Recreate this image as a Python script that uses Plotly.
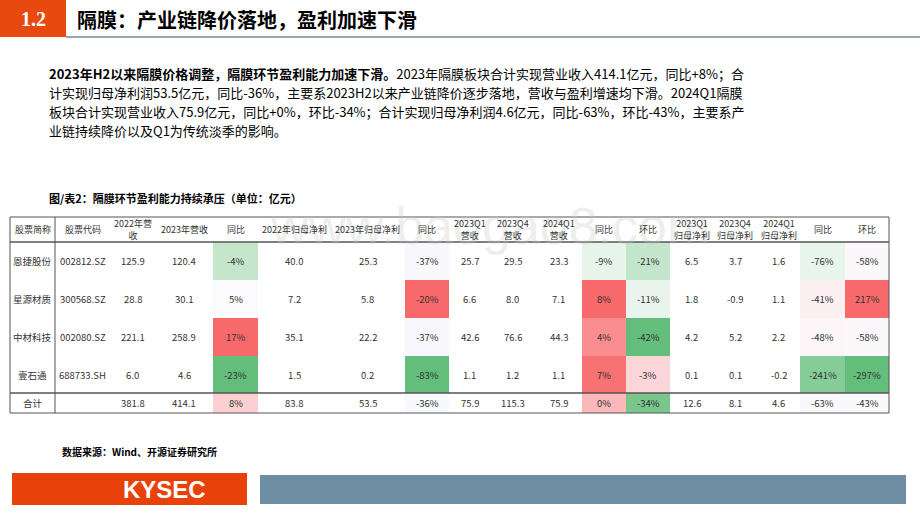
import plotly.graph_objects as go

headers = ["股票简称","股票代码","2022年营<br>收","2023年营收","同比","2022年归母净利","2023年归母净利","同比",
           "2023Q1<br>营收","2023Q4<br>营收","2024Q1<br>营收","同比","环比",
           "2023Q1<br>归母净利","2023Q4<br>归母净利","2024Q1<br>归母净利","同比","环比"]
names = ["恩捷股份","星源材质","中材科技","壹石通","合计"]
codes = ["002812.SZ","300568.SZ","002080.SZ","688733.SH",""]
rev22 = [125.9,28.8,221.1,6.0,381.8]
rev23 = [120.4,30.1,258.9,4.6,414.1]
rev_yoy = [-4,5,17,-23,8]
np22 = [40.0,7.2,35.1,1.5,83.8]
np23 = [25.3,5.8,22.2,0.2,53.5]
np_yoy = [-37,-20,-37,-83,-36]
q1_23 = [25.7,6.6,42.6,1.1,75.9]
q4_23 = [29.5,8.0,76.6,1.2,115.3]
q1_24 = [23.3,7.1,44.3,1.1,75.9]
q_yoy = [-9,8,4,7,0]
q_qoq = [-21,-11,-42,-3,-34]
nq1_23 = [6.5,1.8,4.2,0.1,12.6]
nq4_23 = [3.7,-0.9,5.2,0.1,8.1]
nq1_24 = [1.6,1.1,2.2,-0.2,4.6]
nq_yoy = [-76,-41,-48,-241,-63]
nq_qoq = [-58,217,-58,-297,-43]

# cell fills for the percentage columns (conditional formatting colours)
fills = {
    4: ["#c6e6cc","#fbfafd","#f8696b","#63be7b","#fcd0d3"],
    7: ["#f8f8fc","#f8696b","#f8f8fc","#63be7b","#f8f9fc"],
    11: ["#e6f4ea","#f8696b","#f98d8f","#f87173","#fbb8bb"],
    12: ["#c3e5cb","#e9f5ec","#63be7b","#fcd5d8","#78c68c"],
    16: ["#e8f5ec","#fcf0f2","#fcf6f9","#86cc98","#f9f9fc"],
    17: ["#fbf8fb","#f8696b","#fbf8fb","#63be7b","#f9f9fc"],
}

def f1(v): return f"{v:.1f}"
def pc(v): return f"{v}%"
cols = [names, codes, [f1(v) for v in rev22],[f1(v) for v in rev23],[pc(v) for v in rev_yoy],
        [f1(v) for v in np22],[f1(v) for v in np23],[pc(v) for v in np_yoy],
        [f1(v) for v in q1_23],[f1(v) for v in q4_23],[f1(v) for v in q1_24],[pc(v) for v in q_yoy],[pc(v) for v in q_qoq],
        [f1(v) for v in nq1_23],[f1(v) for v in nq4_23],[f1(v) for v in nq1_24],[pc(v) for v in nq_yoy],[pc(v) for v in nq_qoq]]

xb = [10,55,110,155,213,258,330,405,449,490,535,582,626,670,713,757,800,845,889]
yb = [217,242,280,318,356,393,413]

fig = go.Figure()
shapes, ann = [], []
FONT = "Noto Sans CJK SC"

shapes.append(dict(type="rect", x0=0, x1=66, y0=0, y1=37, fillcolor="#e8490f", line_width=0))
shapes.append(dict(type="line", x0=66, x1=920, y0=37, y1=37, line=dict(color="#9aa4ad", width=2)))
ann.append(dict(x=33, y=19, text="<b>1.2</b>", font=dict(size=20, color="white", family="Liberation Serif"), showarrow=False))
ann.append(dict(x=75, y=19, xanchor="left", text="<b>隔膜：产业链降价落地，盈利加速下滑</b>",
                font=dict(size=20, color="black", family=FONT), showarrow=False))

lines = ["<b>2023年H2以来隔膜价格调整，隔膜环节盈利能力加速下滑。</b>2023年隔膜板块合计实现营业收入414.1亿元，同比+8%；合",
         "计实现归母净利润53.5亿元，同比-36%，主要系2023H2以来产业链降价逐步落地，营收与盈利增速均下滑。2024Q1隔膜",
         "板块合计实现营业收入75.9亿元，同比+0%，环比-34%；合计实现归母净利润4.6亿元，同比-63%，环比-43%，主要系产",
         "业链持续降价以及Q1为传统淡季的影响。"]
for i, t in enumerate(lines):
    ann.append(dict(x=47, y=73+i*19, xanchor="left", text=t, font=dict(size=13, color="black", family=FONT), showarrow=False))

ann.append(dict(x=47, y=198, xanchor="left", text="<b>图/表2：隔膜环节盈利能力持续承压（单位：亿元）</b>",
                font=dict(size=11, color="black", family=FONT), showarrow=False))
ann.append(dict(x=490, y=226, text="www.baogao8.com", font=dict(size=52, color="rgba(200,200,200,0.3)", family="Liberation Sans"), showarrow=False))

for c, f in fills.items():
    for r, col in enumerate(f):
        shapes.append(dict(type="rect", x0=xb[c], x1=xb[c+1], y0=yb[r+1], y1=yb[r+2], fillcolor=col, line_width=0, layer="below"))
for c, h in enumerate(headers):
    ann.append(dict(x=(xb[c]+xb[c+1])/2, y=(yb[0]+yb[1])/2, text=h, font=dict(size=9, color="#333", family=FONT),
                    showarrow=False))
    for r in range(5):
        ann.append(dict(x=(xb[c]+xb[c+1])/2, y=(yb[r+1]+yb[r+2])/2, text=cols[c][r],
                        font=dict(size=9.5, color="#333", family=FONT), showarrow=False))
shapes.append(dict(type="rect", x0=xb[0], x1=xb[-1], y0=yb[0], y1=yb[-1], line=dict(color="#555", width=1)))
shapes.append(dict(type="line", x0=xb[0], x1=xb[-1], y0=yb[1], y1=yb[1], line=dict(color="#555", width=1.5)))
shapes.append(dict(type="line", x0=xb[0], x1=xb[-1], y0=yb[5], y1=yb[5], line=dict(color="#555", width=1.5)))
shapes.append(dict(type="line", x0=xb[1], x1=xb[1], y0=yb[0], y1=yb[-1], line=dict(color="#555", width=1)))

ann.append(dict(x=60, y=451, xanchor="left", text="<b>数据来源：Wind、开源证券研究所</b>",
                font=dict(size=10, color="black", family=FONT), showarrow=False))
shapes.append(dict(type="rect", x0=12, x1=247, y0=473, y1=505, fillcolor="#e8410a", line_width=0))
shapes.append(dict(type="rect", x0=260, x1=906, y0=475, y1=504, fillcolor="#6e8fa3", line_width=0))
ann.append(dict(x=164, y=489, text="<b>KYSEC</b>", font=dict(size=24, color="white", family="Liberation Sans"), showarrow=False))

fig.update_layout(width=920, height=518, margin=dict(l=0, r=0, t=0, b=0), plot_bgcolor="white", paper_bgcolor="white",
                  shapes=shapes, annotations=ann, showlegend=False,
                  xaxis=dict(range=[0,920], visible=False, fixedrange=True),
                  yaxis=dict(range=[518,0], visible=False, fixedrange=True))
fig.write_html("out.html", config={"displayModeBar": False})
with open("out.html", encoding="utf-8") as fh:
    html = fh.read()
html = html.replace("<body>", '<body style="margin:0;overflow:hidden">', 1)
with open("out.html", "w", encoding="utf-8") as fh:
    fh.write(html)
